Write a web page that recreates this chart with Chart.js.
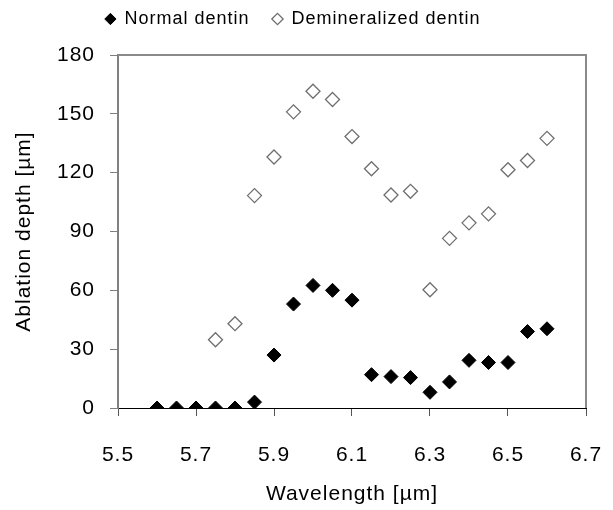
<!DOCTYPE html>
<html>
<head>
<meta charset="utf-8">
<script src="https://cdn.jsdelivr.net/npm/chart.js@4.4.1/dist/chart.umd.min.js"></script>
<style>
  html, body { margin: 0; padding: 0; background: #fff; }
  #wrap { width: 613px; height: 510px; }
</style>
</head>
<body>
<div id="wrap"><canvas id="chart"></canvas></div>
<script>
// wavelengths [µm]
const wavelengths = [5.6, 5.65, 5.7, 5.75, 5.8, 5.85, 5.9, 5.95, 6.0, 6.05, 6.1,
  6.15, 6.2, 6.25, 6.3, 6.35, 6.4, 6.45, 6.5, 6.55, 6.6];

// ablation depth [µm], normal dentin
const normalDepth = [0, 0, 0, 0, 0, 3, 27, 53, 62.5, 60, 55,
  17, 16, 15.5, 8, 13.3, 24.3, 23.2, 23.2, 39, 40.4];

// demineralized dentin, starts at 5.75
const demWavelengths = [5.75, 5.8, 5.85, 5.9, 5.95, 6.0, 6.05, 6.1,
  6.15, 6.2, 6.25, 6.3, 6.35, 6.4, 6.45, 6.5, 6.55, 6.6];
const demDepth = [34.8, 43, 108.3, 128, 151, 161.5, 157.3, 138.4,
  122, 108.6, 110.5, 60.3, 86.5, 94.4, 99, 121.5, 126.2, 137.5];

const xTicks = [5.5, 5.7, 5.9, 6.1, 6.3, 6.5, 6.7];
const yTicks = [0, 30, 60, 90, 120, 150, 180];

const toPoints = (xs, ys) => xs.map((x, i) => ({ x: x, y: ys[i] }));

const FONT = "'Liberation Sans', Arial, sans-serif";

// the original text is a bit wider than Arial, spread it a little
const spacingPlugin = {
  id: 'spacing',
  beforeUpdate(chart) { chart.ctx.letterSpacing = '1px'; },
  beforeDraw(chart) { chart.ctx.letterSpacing = '1px'; }
};

// more room between legend and plot
const legendGapPlugin = {
  id: 'legendGap',
  afterInit(chart) {
    const fit = chart.legend.fit;
    chart.legend.fit = function () {
      fit.call(this);
      this.height += 17;
    };
  }
};

// gray frame on top and right of the plot area
const framePlugin = {
  id: 'frame',
  afterDraw(chart) {
    const a = chart.chartArea;
    const ctx = chart.ctx;
    ctx.save();
    ctx.strokeStyle = '#8a8a8a';
    ctx.lineWidth = 2;
    ctx.beginPath();
    ctx.moveTo(a.left, a.top);
    ctx.lineTo(a.right, a.top);
    ctx.lineTo(a.right, a.bottom);
    ctx.stroke();
    ctx.restore();
  }
};

const ctx = document.getElementById('chart').getContext('2d');
new Chart(ctx, {
  type: 'scatter',
  data: {
    datasets: [{
      label: 'Normal dentin',
      data: toPoints(wavelengths, normalDepth),
      pointStyle: 'rectRot',
      pointRadius: 7,
      backgroundColor: '#000',
      borderColor: '#000',
      borderWidth: 1
    }, {
      label: 'Demineralized dentin',
      data: toPoints(demWavelengths, demDepth),
      pointStyle: 'rectRot',
      pointRadius: 7,
      backgroundColor: '#fff',
      borderColor: '#6e6e6e',
      borderWidth: 1.3
    }]
  },
  options: {
    responsive: true,
    maintainAspectRatio: false,
    animation: false,
    layout: { padding: { top: -13, right: 27, left: 0, bottom: 0 } },
    plugins: {
      legend: {
        position: 'top',
        labels: {
          usePointStyle: true,
          boxWidth: 10,
          boxHeight: 8,
          padding: 23,
          color: '#000',
          font: { family: FONT, size: 18 }
        }
      },
      tooltip: { enabled: false }
    },
    scales: {
      x: {
        type: 'linear',
        min: 5.5,
        max: 6.7,
        afterBuildTicks: s => { s.ticks = xTicks.map(v => ({ value: v })); },
        afterFit: s => { s.height = 102; s.paddingLeft = 0; s.paddingRight = 0; },
        border: { color: '#000', width: 1 },
        grid: { drawOnChartArea: false, drawTicks: true, tickLength: 8, color: '#555' },
        ticks: {
          color: '#000',
          padding: 27,
          font: { family: FONT, size: 21 },
          callback: v => v.toFixed(1)
        },
        title: {
          display: true,
          text: 'Wavelength [µm]',
          color: '#000',
          font: { family: FONT, size: 21 },
          padding: { top: 0, bottom: 3 }
        }
      },
      y: {
        type: 'linear',
        min: 0,
        max: 180,
        afterBuildTicks: s => { s.ticks = yTicks.map(v => ({ value: v })); },
        afterFit: s => { s.width = 118; s.paddingTop = 0; s.paddingBottom = 0; },
        border: { color: '#808080', width: 2 },
        grid: { drawOnChartArea: false, drawTicks: true, tickLength: 8, color: '#808080' },
        ticks: {
          color: '#000',
          padding: 15,
          font: { family: FONT, size: 21 }
        },
        title: {
          display: true,
          text: 'Ablation depth [µm]',
          color: '#000',
          font: { family: FONT, size: 21 },
          padding: { top: 12, bottom: 0 }
        }
      }
    }
  },
  plugins: [spacingPlugin, legendGapPlugin, framePlugin]
});
</script>
</body>
</html>
